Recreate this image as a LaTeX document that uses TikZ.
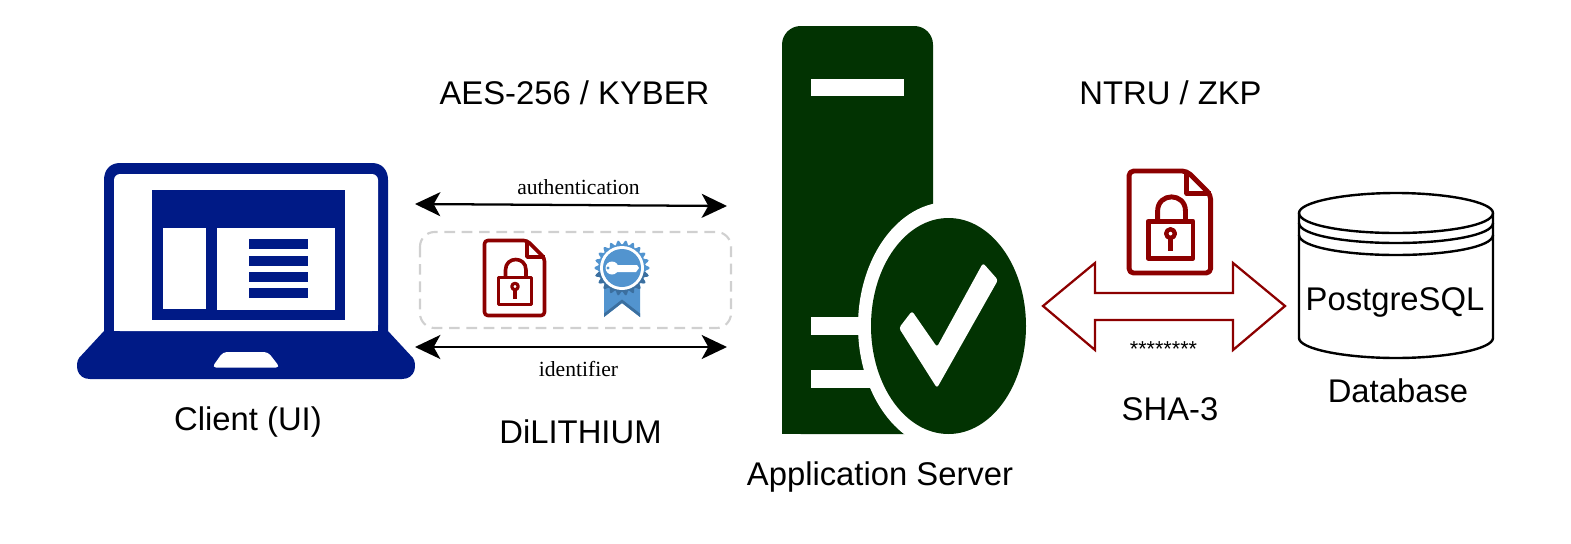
\documentclass[tikz,border=0pt]{standalone}
\usepackage{fontspec}
\setmainfont{Liberation Sans}
\newfontfamily\serifface{Liberation Serif}
\usetikzlibrary{arrows.meta}
\definecolor{lapblue}{HTML}{001A86}
\definecolor{srvgreen}{HTML}{023302}
\definecolor{lockred}{HTML}{8C0000}
\definecolor{badgeblue}{HTML}{5294CF}
\definecolor{badgedark}{HTML}{3B6F9F}
\definecolor{dashgrey}{HTML}{D0D0D0}
\tikzset{
  biglabel/.style={font=\fontsize{24.6pt}{28pt}\selectfont, inner sep=0pt, text=black},
  smalllabel/.style={font=\serifface\fontsize{16.2pt}{19pt}\selectfont, inner sep=0pt, text=black},
  twoway/.style={line width=1.7pt, black, {Stealth[length=19pt,width=18pt,inset=5pt]}-{Stealth[length=19pt,width=18pt,inset=5pt]}},
  lockline/.style={draw=lockred, line join=round}
}
\newcommand{\lockdoc}[3]{%
  \begin{scope}[shift={(#1,#2)},scale=#3]
    \draw[lockline,line width=#3*2.7pt,rounded corners=#3*2.5pt]
      (1.5,1.5)--(44,1.5)--(61.5,19)--(61.5,76.5)--(1.5,76.5)--cycle;
    \draw[lockline,line width=#3*2.7pt] (44,1.5)--(44,18)--(61.5,18);
    \draw[lockline,line width=#3*2.7pt] (15.5,38.5) rectangle (48.5,65.5);
    \draw[lockline,line width=#3*2.7pt] (22.5,38)--(22.5,31) .. controls (22.5,17) and (43,17) .. (43,31)--(43,38);
    \draw[lockline,line width=#3*2.4pt] (32,47.5) circle[radius=3.2];
    \draw[lockline,line width=#3*2.7pt] (32,51)--(32,60);
  \end{scope}}
\begin{document}
\begin{tikzpicture}[x=0.75pt,y=-0.75pt]
\useasboundingbox (0,0) rectangle (1571,543);
% laptop
\fill[lapblue] (104,331)--(104,180) .. controls (104,170) and (110,163) .. (120,163)
  --(372,163) .. controls (382,163) and (388,170) .. (388,180)--(388,331)
  --(413,358) .. controls (417,364) and (416,379) .. (402,379)
  --(90,379) .. controls (76,379) and (75,364) .. (79,358)--cycle;
\fill[white,rounded corners=4.5pt] (114,331)--(114,174)--(378,174)--(378,331)--cycle;
\fill[white] (114,320) rectangle (378,331);
\fill[lapblue] (152,190) rectangle (345,320);
\fill[white] (163,228) rectangle (206,309);
\fill[white] (217,228) rectangle (335,310);
\foreach \yy in {239,255.7,272,288} \fill[lapblue] (249,\yy) rectangle (308,\yy+10);
\fill[white,rounded corners=3pt] (223,352)--(268,352)--(280,367.5)--(212,367.5)--cycle;
% server
\fill[srvgreen,rounded corners=14pt] (782,434)--(782,26)--(933,26)--(933,240)--(933,434)--cycle;
\fill[srvgreen] (782,400) rectangle (933,434);
\fill[white] (811,79) rectangle (904,96);
\fill[white] (811,317) rectangle (880,335);
\fill[white] (811,370) rectangle (880,388);
\fill[white] (948.5,326) ellipse[x radius=90.5,y radius=124];
\fill[white] (933,204) rectangle (1040,434);
\fill[srvgreen] (948.5,326) ellipse[x radius=77.5,y radius=108];
\fill[white,rounded corners=2pt] (912,311)--(937,347)--(983,263)--(998,280)--(937,388)--(899,328)--cycle;
% dashed box
\draw[dashgrey,line width=1.6pt,dash pattern=on 8pt off 5pt,rounded corners=11pt] (420,232) rectangle (731,328);
% lock documents
\lockdoc{483}{239}{1}
\lockdoc{1127}{169}{1.36}
% badge
\fill[badgeblue] (604,285)--(640,285)--(640,317)--(622,303)--(604,317)--cycle;
\fill[badgedark] (604,317)--(622,303)--(640,317)--(640,313.5)--(622,299.5)--(604,313.5)--cycle;
\fill[badgeblue] plot[smooth,samples=133,domain=0:360] ({622+(25.5+2.2*cos(22*\x))*cos(\x)},{268+(25.5+2.2*cos(22*\x))*sin(\x)});
\begin{scope}
  \clip (590,272) rectangle (655,300);
  \fill[badgedark] plot[smooth,samples=133,domain=0:360] ({622+(25.5+2.2*cos(22*\x))*cos(\x)},{268+(25.5+2.2*cos(22*\x))*sin(\x)});
\end{scope}
\fill[white] (622,268) circle[radius=22];
\fill[badgeblue] (622,268) circle[radius=19];
\fill[white] (612,268) circle[radius=6.5];
\fill[white] (612,265)--(637,265)--(639,268)--(636,272)--(612,272)--cycle;
\fill[badgeblue] (608,268) circle[radius=1.6];
% red double arrow
\draw[lockred,line width=1.7pt,line join=miter] (1043,306)--(1095,263)--(1095,293)--(1233,293)--(1233,263)--(1285,306)--(1233,350)--(1233,320)--(1095,320)--(1095,350)--cycle;
% database
\draw[black,line width=1.8pt,fill=white] (1299,213) .. controls (1299,202) and (1345,193) .. (1396,193) .. controls (1447,193) and (1493,202) .. (1493,213)
  --(1493,338) .. controls (1493,349) and (1447,358) .. (1396,358) .. controls (1345,358) and (1299,349) .. (1299,338)--cycle;
\draw[black,line width=1.8pt] (1299,213) .. controls (1299,225) and (1345,233) .. (1396,233) .. controls (1447,233) and (1493,225) .. (1493,213);
\draw[black,line width=1.8pt] (1299,223) .. controls (1299,235) and (1345,243) .. (1396,243) .. controls (1447,243) and (1493,235) .. (1493,223);
\draw[black,line width=1.8pt] (1299,235) .. controls (1299,247) and (1345,255) .. (1396,255) .. controls (1447,255) and (1493,247) .. (1493,235);
% arrows
\coordinate (authL) at (415,204);
\coordinate (authR) at (727,206);
\coordinate (idL) at (415,347);
\coordinate (idR) at (727,347);
\draw[twoway] (authL)--(authR);
\draw[twoway] (idL)--(idR);
% labels
\node[biglabel] (aes) at (574.5,93) {AES-256 / KYBER};
\node[biglabel] (ntru) at (1170.5,93) {NTRU / ZKP};
\node[biglabel] (client) at (248,422) {Client (UI)};
\node[biglabel] (dil) at (580.5,432) {DiLITHIUM};
\node[biglabel] (app) at (880,477) {Application Server};
\node[biglabel] (sha) at (1170,409) {SHA-3};
\node[biglabel] (dbl) at (1398,391) {Database};
\node[biglabel] (pg) at (1395,302) {PostgreSQL};
\node[smalllabel] (auth) at (578.5,187) {authentication};
\node[smalllabel] (ident) at (578.5,369) {identifier};
\node[inner sep=0pt,font=\fontsize{16.2pt}{19pt}\selectfont] (stars) at (1163.5,349) {********};
\end{tikzpicture}
\end{document}
